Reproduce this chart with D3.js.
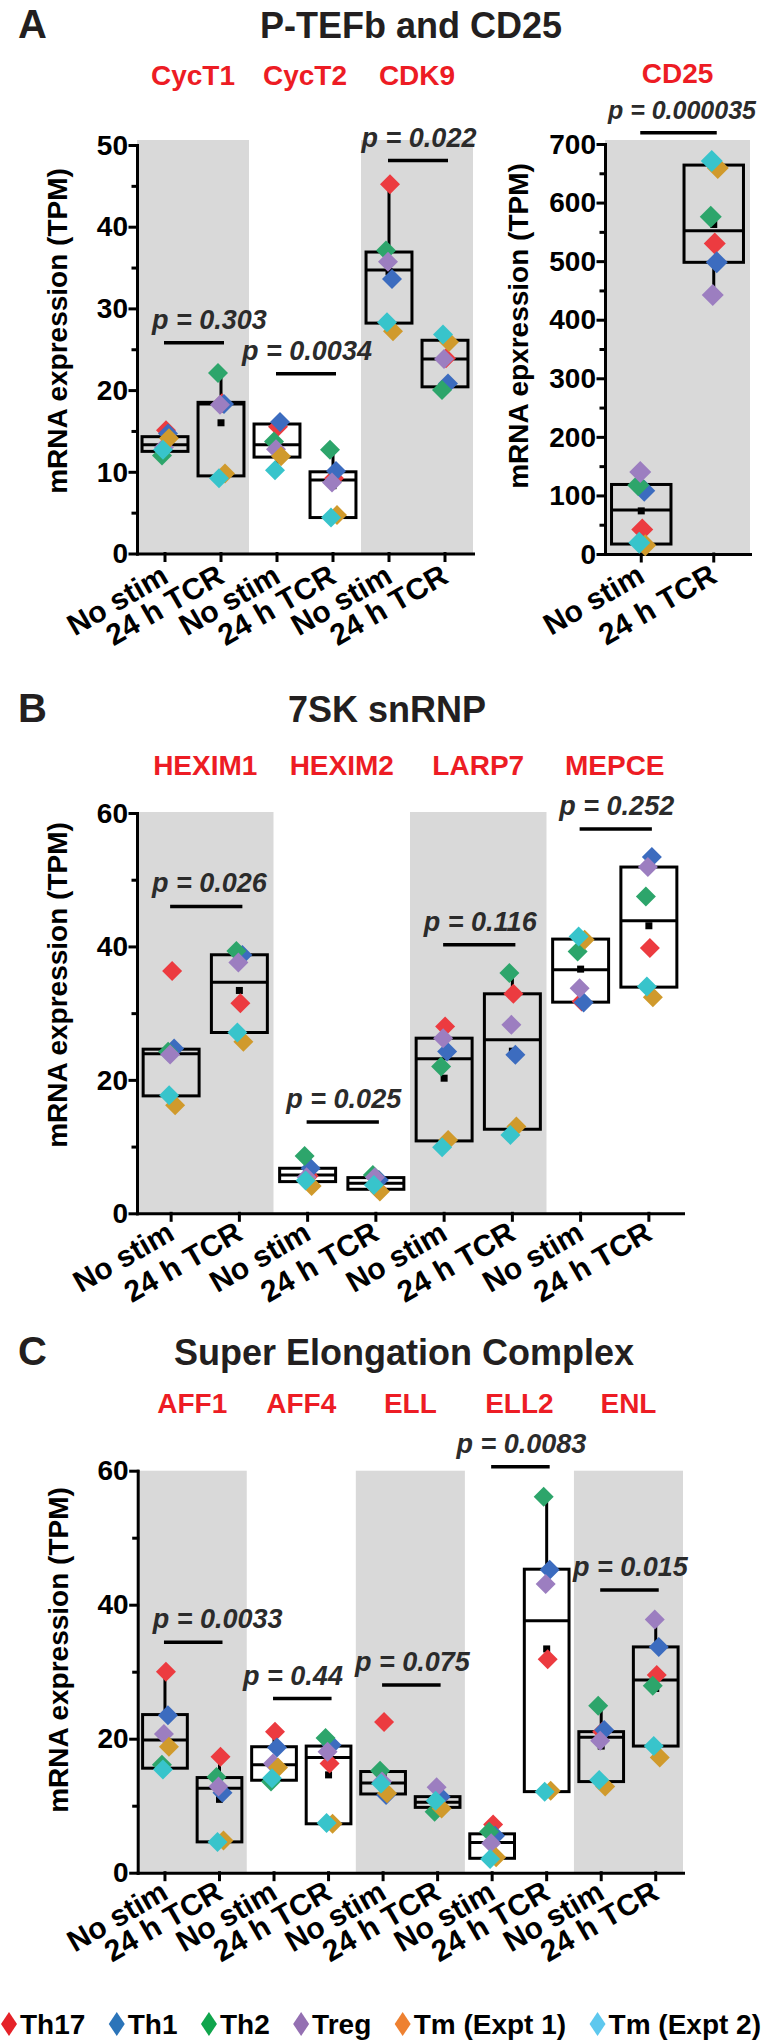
<!DOCTYPE html>
<html>
<head>
<meta charset="utf-8">
<script src="https://cdn.jsdelivr.net/npm/d3@7"></script>
<style>
  body { margin: 0; background: #fff; }
  svg text { font-family: "Liberation Sans", Arial, Helvetica, sans-serif; font-weight: bold; }
</style>
</head>
<body>
<div id="chart"></div>
<script>
// cell types in legend order
var cellTypes = ["Th17", "Th1", "Th2", "Treg", "Tm (Expt 1)", "Tm (Expt 2)"];
var conditions = ["No stim", "24 h TCR"];

// A: P-TEFb (values per cell type, [No stim, 24 h TCR])
var genesA = ["CycT1", "CycT2", "CDK9"];
var pointsA = [
  [[15.1, 14.7, 12.0, 13.0, 14.1, 12.7], [18.4, 18.3, 22.1, 18.2, 9.8, 9.2]],
  [[15.5, 16.1, 13.7, 12.75, 11.9, 10.2], [9.2, 10.1, 12.7, 8.7, 4.7, 4.4]],
  [[45.2, 33.6, 37.1, 35.7, 27.2, 28.3], [23.9, 20.8, 20.0, 23.8, 25.9, 26.8]]
];
// box stats: q1, median, q3, mean
var boxesA = [
  [[12.5, 13.3, 14.3, 13.6], [9.5, 18.3, 18.5, 16.0]],
  [[11.8, 13.3, 15.85, 13.4], [4.4, 9.0, 10.0, 8.3]],
  [[28.2, 34.7, 36.9, 34.5], [20.4, 23.8, 26.1, 23.5]]
];
var pValuesA = ["0.303", "0.0034", "0.022"];
var pBarsA = [25.8, 22.0, 48.1];

// A: CD25
var genesCD25 = ["CD25"];
var pointsCD25 = [
  [[42, 108, 117.5, 140, 15, 19], [530, 498, 575.8, 442, 659, 671]]
];
var boxesCD25 = [
  [[17, 75, 118.7, 73.6], [498, 552, 664, 562.6]]
];
var pValuesCD25 = ["0.000035"];
var pBarsCD25 = [719];

// B: 7SK snRNP
var genesB = ["HEXIM1", "HEXIM2", "LARP7", "MEPCE"];
var pointsB = [
  [[36.3, 24.7, 24.2, 23.8, 16.2, 17.7], [31.5, 38.7, 39.3, 37.6, 25.7, 27.1]],
  [[5.6, 6.75, 8.6, 5.4, 4.1, 4.9], [3.75, 5.0, 5.75, 5.4, 3.25, 4.25]],
  [[28.0, 24.25, 22.0, 26.25, 11.0, 9.9], [32.9, 23.75, 36.0, 28.25, 13.0, 11.75]],
  [[31.75, 31.6, 39.25, 33.75, 41.0, 41.5], [39.75, 53.4, 47.5, 51.9, 32.4, 34.0]]
];
var boxesB = [
  [[17.6, 23.9, 24.6, 23.8], [27.1, 34.65, 38.75, 33.4]],
  [[4.75, 5.75, 6.75, 5.9], [3.6, 4.5, 5.35, 4.6]],
  [[10.85, 23.15, 26.25, 20.25], [12.6, 26.0, 32.9, 24.3]],
  [[31.65, 36.5, 41.1, 36.6], [33.9, 43.85, 51.9, 43.1]]
];
var pValuesB = ["0.026", "0.025", "0.116", "0.252"];
var pBarsB = [46.0, 13.7, 40.25, 57.6];

// C: Super Elongation Complex
var genesC = ["AFF1", "AFF4", "ELL", "ELL2", "ENL"];
var pointsC = [
  [[30.0, 23.5, 16.1, 20.7, 18.8, 15.4], [17.3, 11.95, 14.3, 12.85, 4.8, 4.6]],
  [[21.05, 18.7, 13.6, 16.3, 15.7, 14.1], [16.3, 19.05, 20.1, 18.05, 7.3, 7.4]],
  [[22.5, 11.6, 15.2, 13.6, 11.85, 13.3], [11.0, 11.35, 9.1, 12.75, 9.6, 10.75]],
  [[7.2, 5.5, 6.1, 4.4, 2.3, 2.05], [31.85, 45.2, 56.1, 43.1, 12.25, 12.1]],
  [[21.05, 21.3, 24.9, 19.7, 12.85, 13.85], [29.5, 33.7, 27.9, 37.8, 17.2, 18.9]]
];
var boxesC = [
  [[15.6, 19.8, 23.6, 20.75], [4.6, 12.6, 14.2, 10.95]],
  [[13.8, 16.1, 18.8, 16.6], [7.3, 17.2, 18.9, 14.6]],
  [[11.75, 13.4, 15.1, 14.7], [9.75, 10.5, 11.35, 10.8]],
  [[2.15, 4.5, 5.8, 4.6], [12.1, 37.6, 45.3, 33.4]],
  [[13.6, 20.2, 21.05, 18.9], [18.9, 28.75, 33.7, 27.5]]
];
var pValuesC = ["0.0033", "0.44", "0.075", "0.0083", "0.015"];
var pBarsC = [34.4, 26.0, 28.0, 60.6, 42.2];

var pointColors = ["#ec3b40", "#3c6cbf", "#2da56b", "#9c7ec0", "#d09a2c", "#38c4cb"];
var legendColors = ["#e52228", "#2b74b9", "#10a54c", "#9470b2", "#ee8131", "#5ec8ee"];
var jitter = [1, 3, -3, -1, 4, -2];

var svgWidth = 764;
var svg = d3.select("#chart").append("svg")
  .attr("width", svgWidth)
  .attr("height", 2042);

function diamond(r) {
  return "M0," + (-r) + "L" + r + ",0L0," + r + "L" + (-r) + ",0Z";
}

// Tukey whiskers from the box quartiles
function whiskerEnds(vals, b) {
  var iqr = b[2] - b[0];
  var inside = vals.filter(v => v >= b[0] - 1.5 * iqr && v <= b[2] + 1.5 * iqr);
  return [Math.min(b[0], d3.min(inside)), Math.max(b[2], d3.max(inside))];
}

function drawPanel(p) {
  var cats = [];
  p.genes.forEach(function(gene, gi) {
    conditions.forEach(function(c, ci) { cats.push(gi + "|" + ci); });
  });

  var x = d3.scaleBand().domain(cats).range([p.left, p.right]);
  var y = d3.scaleLinear().domain([0, p.yMax]).range([p.bottom, p.top]);
  var bw = x.bandwidth();
  var boxW = bw * 0.82;
  var cx = d => x(d) + bw / 2;

  var g = svg.append("g");

  // shaded gene groups
  p.shade.forEach(function(gi) {
    g.append("rect")
      .attr("x", x(gi + "|0"))
      .attr("y", p.top - p.bandPad)
      .attr("width", bw * 2)
      .attr("height", p.bottom - p.top + p.bandPad)
      .attr("fill", "#d9d9d9");
  });

  // axes
  var majors = d3.range(0, p.yMax + 1, p.major);
  var minors = d3.range(p.major / 2, p.yMax, p.major);

  var yMinor = g.append("g")
    .attr("transform", `translate(${p.left},0)`)
    .call(d3.axisLeft(y).tickValues(minors).tickSize(4).tickSizeOuter(0).tickFormat(""));
  var yAxis = g.append("g")
    .attr("transform", `translate(${p.left},0)`)
    .call(d3.axisLeft(y).tickValues(majors).tickSize(7).tickPadding(2).tickSizeOuter(0));
  var xAxis = g.append("g")
    .attr("transform", `translate(0,${p.bottom})`)
    .call(d3.axisBottom(x).tickSize(7).tickSizeOuter(0).tickFormat(d => conditions[+d.split("|")[1]]));

  [yMinor, yAxis, xAxis].forEach(function(a) {
    a.attr("font-family", null).attr("font-size", null);
    a.selectAll("path, line").attr("stroke", "#000").attr("stroke-width", 3).attr("stroke-linecap", "square");
  });
  yMinor.select(".domain").remove();

  yAxis.selectAll("text")
    .attr("fill", "#000")
    .style("font-size", "28px")
    .attr("dy", "0.33em");

  xAxis.selectAll("text")
    .attr("fill", "#000")
    .style("font-size", "30px")
    .attr("y", 0)
    .attr("dy", 0)
    .attr("text-anchor", "end")
    .attr("transform", `translate(5,${p.xLabelDy}) rotate(-30)`);

  // boxes, whiskers and means
  cats.forEach(function(c) {
    var gi = +c.split("|")[0], ci = +c.split("|")[1];
    var b = p.boxes[gi][ci];
    var w = whiskerEnds(p.points[gi][ci], b);
    var xc = cx(c);

    g.append("line")
      .attr("x1", xc).attr("x2", xc)
      .attr("y1", y(b[2])).attr("y2", y(w[1]))
      .attr("stroke", "#000").attr("stroke-width", 3);
    g.append("line")
      .attr("x1", xc).attr("x2", xc)
      .attr("y1", y(b[0])).attr("y2", y(w[0]))
      .attr("stroke", "#000").attr("stroke-width", 3);
    g.append("rect")
      .attr("x", xc - boxW / 2)
      .attr("y", y(b[2]))
      .attr("width", boxW)
      .attr("height", y(b[0]) - y(b[2]))
      .attr("fill", "none")
      .attr("stroke", "#000")
      .attr("stroke-width", 3);
    g.append("line")
      .attr("x1", xc - boxW / 2).attr("x2", xc + boxW / 2)
      .attr("y1", y(b[1])).attr("y2", y(b[1]))
      .attr("stroke", "#000").attr("stroke-width", 3);
    g.append("rect")
      .attr("x", xc - 3.5).attr("y", y(b[3]) - 3.5)
      .attr("width", 7).attr("height", 7)
      .attr("fill", "#000");
  });

  // data points
  cats.forEach(function(c) {
    var gi = +c.split("|")[0], ci = +c.split("|")[1];
    g.selectAll(null)
      .data(p.points[gi][ci])
      .enter()
      .append("path")
      .attr("d", diamond(p.r))
      .attr("fill", (d, i) => pointColors[i])
      .attr("transform", (d, i) => `translate(${cx(c) + jitter[i]},${y(d)})`);
  });

  // p-value bars and gene names
  var placed = [];
  p.genes.forEach(function(gene, gi) {
    var x1 = cx(gi + "|0"), x2 = cx(gi + "|1");
    var yy = y(p.pbar[gi]);
    g.append("line")
      .attr("x1", x1 - 1).attr("x2", x2 + 3)
      .attr("y1", yy).attr("y2", yy)
      .attr("stroke", "#000").attr("stroke-width", 3.5);
    var pt = g.append("text")
      .attr("y", yy - 14)
      .attr("text-anchor", "middle")
      .style("font-size", p.pSize + "px")
      .style("font-style", "italic")
      .attr("fill", "#2b2b2b")
      .text("p = " + p.pv[gi]);
    // keep clear of the y axis and the right edge
    var tw = pt.node().getComputedTextLength();
    var tx = (x1 + x2) / 2 + 2;
    tx = Math.max(tx, p.left + 15 + tw / 2);
    tx = Math.min(tx, svgWidth - 8 - tw / 2);
    pt.attr("x", tx);
    placed.push({ node: pt, x: tx, w: tw, y: yy });

    g.append("text")
      .attr("x", (x1 + x2) / 2)
      .attr("y", p.geneY)
      .attr("text-anchor", "middle")
      .style("font-size", "28px")
      .attr("fill", "#ed1c24")
      .text(gene);
  });

  // nudge neighbouring p labels apart when they sit at similar heights
  for (var i = 0; i < placed.length - 1; i++) {
    var a = placed[i], b = placed[i + 1];
    var overlap = (a.x + a.w / 2 + 12) - (b.x - b.w / 2);
    if (overlap > 0 && Math.abs(a.y - b.y) < 30) {
      a.x -= overlap;
      a.node.attr("x", a.x);
    }
  }

  // y axis title
  g.append("text")
    .attr("transform", `translate(${p.yTitleX},${p.yTitleY}) rotate(-90)`)
    .attr("text-anchor", "middle")
    .style("font-size", "28px")
    .attr("fill", "#000")
    .text(p.yTitle);
}

function panelHeader(letter, title, titleX, baseY) {
  svg.append("text")
    .attr("x", 18).attr("y", baseY)
    .style("font-size", "40px")
    .attr("fill", "#231f20")
    .text(letter);
  svg.append("text")
    .attr("x", titleX).attr("y", baseY)
    .attr("text-anchor", "middle")
    .style("font-size", "36px")
    .attr("fill", "#231f20")
    .text(title);
}

panelHeader("A", "P-TEFb and CD25", 411, 38);
panelHeader("B", "7SK snRNP", 387, 722);
panelHeader("C", "Super Elongation Complex", 404, 1365);

drawPanel({
  genes: genesA, points: pointsA, boxes: boxesA, pv: pValuesA, pbar: pBarsA,
  yMax: 50, major: 10, left: 137, right: 473, top: 145, bottom: 553.5, bandPad: 5,
  shade: [0, 2], geneY: 85, xLabelDy: 28, r: 10, pSize: 27,
  yTitle: "mRNA expression (TPM)", yTitleX: 67, yTitleY: 331
});
drawPanel({
  genes: genesCD25, points: pointsCD25, boxes: boxesCD25, pv: pValuesCD25, pbar: pBarsCD25,
  yMax: 700, major: 100, left: 605, right: 750, top: 144, bottom: 554, bandPad: 4,
  shade: [0], geneY: 83, xLabelDy: 27, r: 11, pSize: 25,
  yTitle: "mRNA epxression (TPM)", yTitleX: 528, yTitleY: 326
});
drawPanel({
  genes: genesB, points: pointsB, boxes: boxesB, pv: pValuesB, pbar: pBarsB,
  yMax: 60, major: 20, left: 137, right: 683, top: 813, bottom: 1213.3, bandPad: 1,
  shade: [0, 2], geneY: 775, xLabelDy: 25, r: 10, pSize: 27,
  yTitle: "mRNA expression (TPM)", yTitleX: 67, yTitleY: 985
});
drawPanel({
  genes: genesC, points: pointsC, boxes: boxesC, pv: pValuesC, pbar: pBarsC,
  yMax: 60, major: 20, left: 137.7, right: 683, top: 1470.7, bottom: 1872.7, bandPad: 0,
  shade: [0, 2, 4], geneY: 1413, xLabelDy: 25, r: 10, pSize: 27,
  yTitle: "mRNA expression (TPM)", yTitleX: 68, yTitleY: 1650
});

// legend spread across the full width
var legend = svg.append("g");
var items = legend.selectAll("g")
  .data(cellTypes)
  .enter()
  .append("g");
items.append("path")
  .attr("d", "M0,-12L8,0L0,12L-8,0Z")
  .attr("fill", (d, i) => legendColors[i]);
items.append("text")
  .attr("x", 11)
  .attr("y", 10)
  .style("font-size", "28px")
  .attr("fill", "#000")
  .text(d => d);

var widths = [];
items.select("text").each(function() { widths.push(this.getComputedTextLength()); });
var used = d3.sum(widths) + cellTypes.length * 19;
var gap = (760 - used) / (cellTypes.length - 1);
var pos = 9;
items.attr("transform", function(d, i) {
  var t = `translate(${pos},2024)`;
  pos += 19 + widths[i] + gap;
  return t;
});
</script>
</body>
</html>
